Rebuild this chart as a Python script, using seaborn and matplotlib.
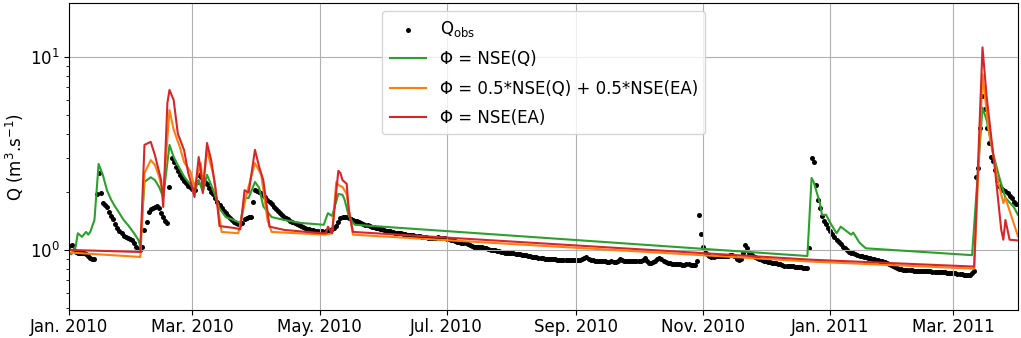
import numpy as np
import pandas as pd
import matplotlib
matplotlib.use("Agg")
import matplotlib.pyplot as plt
import matplotlib.dates as mdates
import seaborn as sns

# observed daily discharge, from 2010-01-01 onwards
start = pd.Timestamp("2010-01-01")
q_obs = [
    1.05, 1.06, 1.00, 0.98, 0.97, 0.97, 0.97, 0.96, 0.95, 0.93,
    0.91, 0.90, 0.90, 1.95, 2.50, 1.97, 1.75, 1.70, 1.66, 1.58,
    1.50, 1.44, 1.36, 1.30, 1.25, 1.22, 1.18, 1.17, 1.16, 1.14,
    1.12, 1.08, 1.04, 1.01, 1.00, 1.03, 1.27, 1.40, 1.57, 1.62,
    1.65, 1.67, 1.69, 1.65, 1.55, 1.48, 1.42, 1.38, 2.12, 3.00,
    2.86, 2.70, 2.55, 2.45, 2.35, 2.28, 2.22, 2.15, 2.12, 2.08,
    2.05, 2.25, 2.45, 2.40, 2.32, 2.25, 2.20, 2.10, 2.00, 1.95,
    1.85, 1.78, 1.70, 1.65, 1.60, 1.55, 1.50, 1.46, 1.43, 1.40,
    1.38, 1.37, 1.36, 1.38, 1.44, 1.47, 1.48, 1.48, 1.77, 2.04,
    2.02, 2.00, 1.97, 1.93, 1.88, 1.82, 1.77, 1.72, 1.67, 1.63,
    1.60, 1.56, 1.52, 1.49, 1.47, 1.44, 1.42, 1.40, 1.38, 1.36,
    1.35, 1.33, 1.31, 1.30, 1.29, 1.28, 1.27, 1.27, 1.26, 1.25,
    1.25, 1.25, 1.24, 1.25, 1.26, 1.27, 1.28, 1.30, 1.33, 1.40,
    1.46, 1.48, 1.49, 1.48, 1.47, 1.45, 1.43, 1.42, 1.41, 1.40,
    1.38, 1.36, 1.35, 1.34, 1.33, 1.32, 1.31, 1.30, 1.30, 1.29,
    1.28, 1.27, 1.26, 1.25, 1.25, 1.24, 1.23, 1.23, 1.22, 1.22,
    1.21, 1.21, 1.20, 1.20, 1.19, 1.19, 1.18, 1.18, 1.18, 1.17,
    1.17, 1.17, 1.16, 1.16, 1.15, 1.15, 1.16, 1.17, 1.16, 1.16,
    1.15, 1.14, 1.14, 1.13, 1.12, 1.11, 1.10, 1.10, 1.09, 1.09,
    1.08, 1.07, 1.06, 1.05, 1.04, 1.04, 1.04, 1.03, 1.03, 1.02,
    1.02, 1.01, 1.00, 1.00, 1.00, 0.99, 0.99, 0.98, 0.98, 0.97,
    0.97, 0.97, 0.96, 0.96, 0.95, 0.95, 0.95, 0.94, 0.94, 0.94,
    0.93, 0.93, 0.92, 0.92, 0.92, 0.91, 0.91, 0.91, 0.90, 0.90,
    0.90, 0.90, 0.90, 0.90, 0.89, 0.89, 0.89, 0.89, 0.89, 0.89,
    0.89, 0.89, 0.89, 0.89, 0.89, 0.89, 0.90, 0.91, 0.92, 0.90,
    0.89, 0.89, 0.88, 0.88, 0.88, 0.88, 0.88, 0.88, 0.87, 0.87,
    0.88, 0.87, 0.87, 0.88, 0.90, 0.89, 0.88, 0.88, 0.88, 0.88,
    0.88, 0.88, 0.88, 0.88, 0.88, 0.89, 0.91, 0.88, 0.86, 0.86,
    0.87, 0.88, 0.90, 0.91, 0.90, 0.88, 0.87, 0.86, 0.86, 0.85,
    0.85, 0.85, 0.85, 0.85, 0.84, 0.84, 0.85, 0.85, 0.84, 0.84,
    0.84, 0.88, 1.52, 1.21, 1.04, 0.98, 0.95, 0.93, 0.92, 0.92,
    0.93, 0.93, 0.93, 0.93, 0.93, 0.93, 0.93, 0.94, 0.94, 0.93,
    0.90, 0.89, 0.90, 0.97, 1.06, 1.02, 0.97, 0.95, 0.93, 0.92,
    0.91, 0.90, 0.89, 0.88, 0.88, 0.87, 0.87, 0.86, 0.86, 0.86,
    0.85, 0.85, 0.84, 0.83, 0.83, 0.83, 0.83, 0.83, 0.82, 0.82,
    0.82, 0.82, 0.81, 0.81, 0.81, 1.02, 3.00, 2.86, 2.17, 1.81,
    1.65, 1.50, 1.42, 1.36, 1.30, 1.25, 1.21, 1.17, 1.13, 1.10,
    1.07, 1.04, 1.02, 1.00, 0.98, 0.97, 0.96, 0.95, 0.94, 0.93,
    0.93, 0.92, 0.92, 0.91, 0.91, 0.90, 0.90, 0.89, 0.89, 0.88,
    0.88, 0.87, 0.86, 0.85, 0.84, 0.83, 0.82, 0.81, 0.80, 0.80,
    0.79, 0.79, 0.79, 0.79, 0.79, 0.78, 0.78, 0.78, 0.78, 0.78,
    0.78, 0.78, 0.78, 0.78, 0.77, 0.77, 0.77, 0.77, 0.77, 0.77,
    0.77, 0.76, 0.76, 0.76, 0.76, 0.76, 0.75, 0.75, 0.75, 0.74,
    0.74, 0.74, 0.74, 0.76, 0.78, 2.39, 2.66, 4.30, 6.30, 5.40,
    4.30, 3.60, 3.03, 2.90, 2.60, 2.30, 2.15, 2.10, 2.05, 2.02,
    1.98, 1.90, 1.85, 1.78, 1.72,
]

# simulated series (days since 2010-01-01, value)
nse_q_days = [0, 1, 3, 4, 6, 8, 9, 10, 12, 14, 16, 18, 20, 22, 23, 26, 28, 31, 33, 34,
              36, 39, 41, 43, 45, 48, 50, 52, 55, 57, 59, 60, 62, 64, 66, 69, 72, 75, 78, 82,
              84, 86, 89, 91, 93, 97, 103, 111, 122, 124, 126, 129, 131, 132, 134, 136, 137,
              354, 356, 357, 360, 361, 363, 365, 368, 370, 372, 375, 376, 379, 382,
              433, 438, 440, 443, 446, 449, 450, 453, 455]
nse_q = [0.96, 0.95, 1.04, 1.22, 1.17, 1.24, 1.20, 1.24, 1.43, 2.79, 2.45, 2.04, 1.82, 1.67, 1.61, 1.43, 1.35, 1.22, 1.13, 1.05,
         2.25, 2.38, 2.30, 2.12, 1.88, 3.50, 3.03, 2.75, 2.40, 2.25, 2.12, 2.00, 2.30, 2.00, 2.45, 2.04, 1.64, 1.48, 1.44, 1.38,
         1.85, 1.86, 2.25, 2.10, 1.68, 1.48, 1.43, 1.38, 1.35, 1.55, 1.50, 1.95, 1.93, 1.82, 1.50, 1.38, 1.35,
         0.93, 2.36, 2.25, 1.75, 1.52, 1.52, 1.38, 1.22, 1.32, 1.27, 1.20, 1.23, 1.09, 1.02,
         0.94, 5.46, 4.70, 3.18, 2.39, 1.86, 1.81, 1.67, 1.52]

mix_days = [0, 34, 36, 39, 41, 43, 45, 48, 50, 53, 55, 58, 60, 63, 64, 66, 69, 73, 81, 85,
            89, 92, 95, 97, 123, 126, 128, 129, 131, 133, 135, 136,
            356, 434, 438, 441, 445, 448, 449, 452, 455]
mix = [0.97, 0.92, 2.50, 2.92, 2.76, 2.40, 1.95, 5.30, 4.20, 3.40, 2.85, 2.55, 2.12, 2.82, 2.12, 3.29, 2.45, 1.24, 1.22, 1.95,
       2.82, 2.45, 1.43, 1.24, 1.20, 1.22, 2.25, 2.17, 2.12, 1.95, 1.40, 1.20,
       0.87, 0.80, 8.10, 4.18, 2.39, 1.75, 1.86, 1.48, 1.18]

nse_ea_days = [0, 34, 36, 39, 41, 44, 45, 47, 48, 50, 52, 55, 57, 58, 60, 62, 63, 64, 66, 68,
               70, 72, 79, 82, 84, 86, 89, 91, 93, 96, 103, 121, 123, 124, 126, 129, 130, 131, 133, 134, 136,
               356, 434, 438, 440, 444, 447, 448, 449, 451, 455]
nse_ea = [1.00, 0.976, 3.50, 3.63, 3.10, 2.30, 1.67, 5.78, 6.74, 5.98, 4.00, 3.29, 2.50, 2.30, 1.88, 3.03, 2.59, 1.97, 3.58, 2.92,
          2.12, 1.33, 1.30, 1.28, 2.04, 1.98, 3.30, 2.70, 2.30, 1.32, 1.27, 1.22, 1.22, 1.32, 1.22, 2.57, 2.50, 2.30, 2.20, 1.60, 1.24,
          0.89, 0.82, 11.2, 6.20, 2.60, 1.27, 1.13, 1.43, 1.13, 1.12]

labels = [r"Q$_{\mathrm{obs}}$", "Φ = NSE(Q)", "Φ = 0.5*NSE(Q) + 0.5*NSE(EA)", "Φ = NSE(EA)"]
colors = ["tab:green", "tab:orange", "tab:red"]


def to_dates(days):
    return start + pd.to_timedelta(days, unit="D")


fig, ax = plt.subplots(figsize=(10.21, 3.38), dpi=100)
fig.subplots_adjust(left=0.068, right=0.997, bottom=0.082, top=0.991)

obs_dates = to_dates(np.arange(len(q_obs)))
sns.scatterplot(x=obs_dates, y=q_obs, ax=ax, color="k", s=13, linewidth=0, label=labels[0])
for days, vals, col, lab in zip([nse_q_days, mix_days, nse_ea_days], [nse_q, mix, nse_ea], colors, labels[1:]):
    sns.lineplot(x=to_dates(days), y=vals, ax=ax, color=col, linewidth=1.5, label=lab)

ax.set_yscale("log")
ax.set_ylim(0.487, 19.0)
ax.set_xlim(pd.Timestamp("2010-01-01"), pd.Timestamp("2011-04-01"))
ax.xaxis.set_major_locator(mdates.MonthLocator(bymonth=[1, 3, 5, 7, 9, 11]))
ax.xaxis.set_major_formatter(mdates.DateFormatter("%b. %Y"))
ax.set_xlabel("")
ax.set_ylabel(r"Q (m$^3$.s$^{-1}$)", fontsize=12, labelpad=3)
ax.tick_params(labelsize=12)
ax.tick_params(axis="x", pad=2)
ax.grid(True, color="#b0b0b0", linewidth=0.8)
ax.legend(loc="upper center", fontsize=12, framealpha=0.8, labelspacing=0.68,
          handlelength=2.2, borderpad=0.45)

fig.savefig("out.png", dpi=100)
